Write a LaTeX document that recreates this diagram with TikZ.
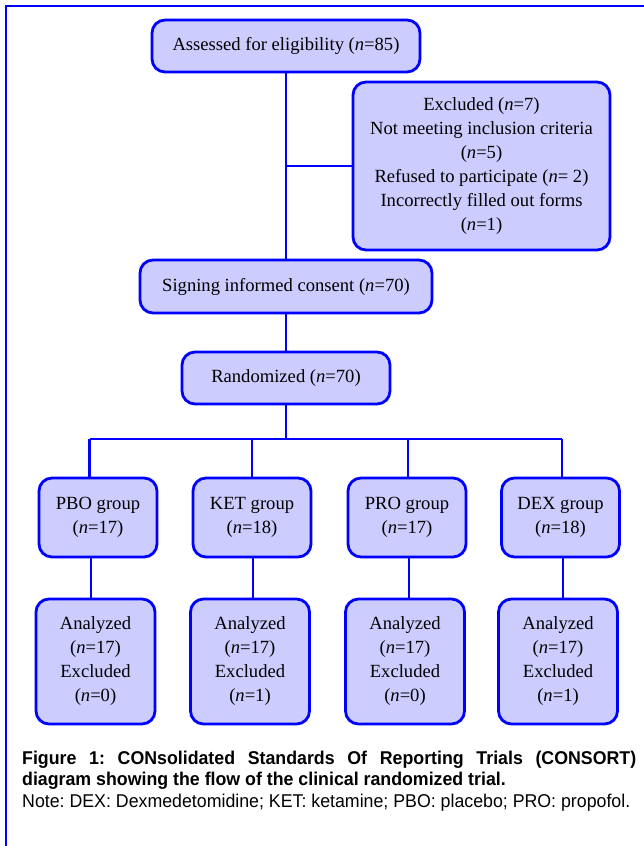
\documentclass[tikz,border=0pt]{standalone}
\usepackage{fontspec}
\setmainfont{Liberation Serif}
\newfontfamily\capfont[FakeStretch=0.96]{Liberation Sans}
\definecolor{boxfill}{RGB}{204,204,255}
\definecolor{pureblue}{RGB}{0,0,255}
\begin{document}
\begin{tikzpicture}[x=1pt,y=1pt,
  cbox/.style={draw=pureblue, fill=boxfill, line width=2.8pt, rounded corners=13pt,
    align=center, inner sep=2pt, font=\fontsize{18.6pt}{24pt}\selectfont},
  conn/.style={draw=pureblue, line width=2.4pt},
  frameline/.style={draw=pureblue, line width=2.4pt}]
\useasboundingbox (0,0) rectangle (644,-846);
% frame
\draw[frameline] (6,-846) -- (6,-6) -- (644,-6);
% nodes
\node[cbox, minimum width=268pt, minimum height=52pt] (a) at (286,-46) {Assessed for eligibility (\textit{n}=85)};
\node[cbox, minimum width=257pt, minimum height=168pt] (ex) at (481.5,-166) {Excluded (\textit{n}=7)\\Not meeting inclusion criteria\\(\textit{n}=5)\\Refused to participate (\textit{n}= 2)\\Incorrectly filled out forms\\(\textit{n}=1)};
\node[cbox, minimum width=292pt, minimum height=53pt] (sign) at (286,-286.5) {Signing informed consent (\textit{n}=70)};
\node[cbox, minimum width=208pt, minimum height=52pt] (rand) at (286,-378) {Randomized (\textit{n}=70)};
\node[cbox, minimum width=118pt, minimum height=79pt] (pbo) at (98,-517.5) {PBO group\\(\textit{n}=17)};
\node[cbox, minimum width=118pt, minimum height=79pt] (ket) at (252,-517.5) {KET group\\(\textit{n}=18)};
\node[cbox, minimum width=118pt, minimum height=79pt] (pro) at (407,-517.5) {PRO group\\(\textit{n}=17)};
\node[cbox, minimum width=118pt, minimum height=79pt] (dex) at (560.5,-517.5) {DEX group\\(\textit{n}=18)};
\node[cbox, minimum width=119pt, minimum height=125pt] (apbo) at (95.5,-661.5) {Analyzed\\(\textit{n}=17)\\Excluded\\(\textit{n}=0)};
\node[cbox, minimum width=119pt, minimum height=125pt] (aket) at (250,-661.5) {Analyzed\\(\textit{n}=17)\\Excluded\\(\textit{n}=1)};
\node[cbox, minimum width=119pt, minimum height=125pt] (apro) at (405,-661.5) {Analyzed\\(\textit{n}=17)\\Excluded\\(\textit{n}=0)};
\node[cbox, minimum width=119pt, minimum height=125pt] (adex) at (558,-661.5) {Analyzed\\(\textit{n}=17)\\Excluded\\(\textit{n}=1)};
% connectors
\coordinate (br) at (a.south |- ex.west);
\draw[conn] (a.south) -- (sign.north);
\draw[conn] (br) -- (ex.west);
\draw[conn] (sign.south) -- (rand.north);
\coordinate (j1) at (89.5,-439);
\coordinate (j2) at (252,-439);
\coordinate (j3) at (408,-439);
\coordinate (j4) at (562,-439);
\draw[conn] (rand.south) -- (rand.south |- j1);
\draw[conn] (j1) -- (j4);
\draw[conn] (j1) -- (j1 |- pbo.north);
\draw[conn] (j2) -- (j2 |- ket.north);
\draw[conn] (j3) -- (j3 |- pro.north);
\draw[conn] (j4) -- (j4 |- dex.north);
\coordinate (k1) at (91,-560);
\coordinate (k2) at (253,-560);
\coordinate (k3) at (409,-560);
\coordinate (k4) at (563,-560);
\draw[conn] (k1 |- pbo.south) -- (k1 |- apbo.north);
\draw[conn] (k2 |- ket.south) -- (k2 |- aket.north);
\draw[conn] (k3 |- pro.south) -- (k3 |- apro.north);
\draw[conn] (k4 |- dex.south) -- (k4 |- adex.north);
% caption
\node[anchor=north west, inner sep=0pt, text width=614pt, align=justify,
  font=\capfont\fontsize{18.5pt}{21.5pt}\selectfont] (cap) at (22,-750.5)
  {\frenchspacing{\bfseries Figure 1: CONsolidated Standards Of Reporting Trials (CONSORT)\linebreak diagram showing the flow of the clinical randomized trial.}\\Note: DEX: Dexmedetomidine; KET: ketamine; PBO: placebo; PRO: propofol.};
\end{tikzpicture}
\end{document}
